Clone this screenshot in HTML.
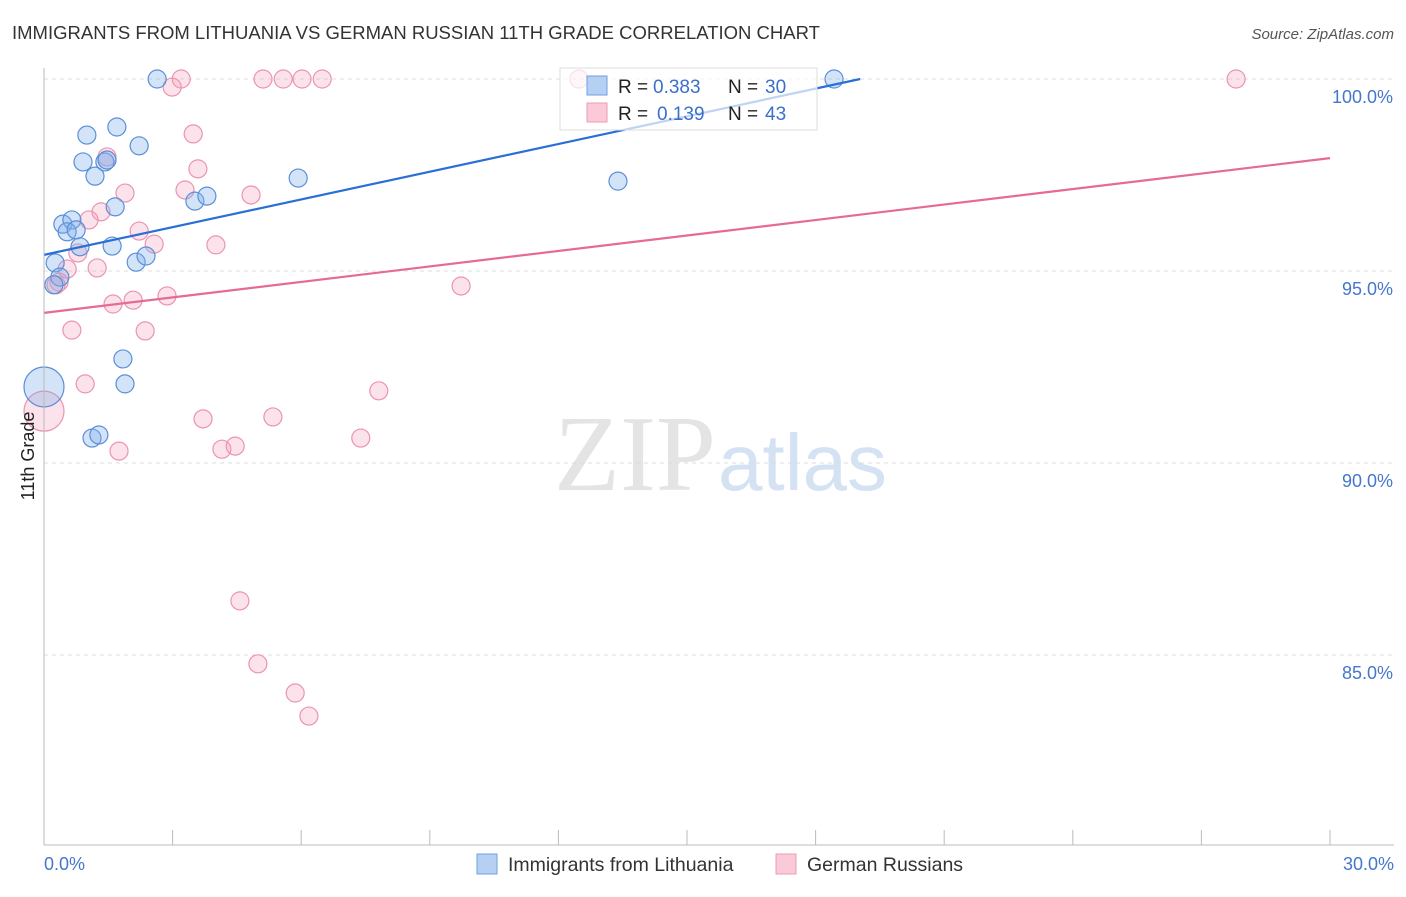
<!DOCTYPE html>
<html><head><meta charset="utf-8"><style>
body{margin:0;background:#fff;font-family:"Liberation Sans",sans-serif}
</style></head><body>
<svg width="1406" height="892" xmlns="http://www.w3.org/2000/svg" id="chart">
<text x="12" y="39" font-size="18.5" fill="#333">IMMIGRANTS FROM LITHUANIA VS GERMAN RUSSIAN 11TH GRADE CORRELATION CHART</text>
<text x="1394" y="39" font-size="15" fill="#555" font-style="italic" text-anchor="end">Source: ZipAtlas.com</text>
<text x="716" y="490" font-size="108" fill="#e4e4e4" text-anchor="end" font-family="Liberation Serif">ZIP</text>
<text x="718" y="490" font-size="80" fill="#d4e2f4">atlas</text>
<g id="grid"></g><g id="pts"></g><g id="lines"></g>
<line x1="44" y1="68" x2="44" y2="845" stroke="#bbb"/>
<line x1="44" y1="845" x2="1394" y2="845" stroke="#bbb"/>
<text transform="translate(34,456) rotate(-90)" font-size="18" fill="#222" text-anchor="middle">11th Grade</text>
<text x="44" y="870" font-size="18" fill="#4477cc">0.0%</text>
<text x="1394" y="870" font-size="18" fill="#4477cc" text-anchor="end">30.0%</text>
<g>
<rect x="560" y="68" width="257" height="62" fill="#fff" fill-opacity="0.7" stroke="#ddd"/>
<rect x="587" y="76" width="20" height="19" fill="#b5d0f3" stroke="#6f9fe0"/>
<rect x="587" y="103" width="20" height="19" fill="#fbc9d7" stroke="#ee9cb5"/>
<text x="618" y="93" font-size="19" fill="#222">R =</text>
<text x="653" y="93" font-size="19" fill="#3a70c9">0.383</text>
<text x="728" y="93" font-size="19" fill="#222">N =</text>
<text x="765" y="93" font-size="19" fill="#3a70c9">30</text>
<text x="618" y="120" font-size="19" fill="#222">R =</text>
<text x="657" y="120" font-size="19" fill="#3a70c9">0.139</text>
<text x="728" y="120" font-size="19" fill="#222">N =</text>
<text x="765" y="120" font-size="19" fill="#3a70c9">43</text>
</g>
<g>
<rect x="477" y="854" width="20" height="20" fill="#b5d0f3" stroke="#6f9fe0"/>
<text x="508" y="871" font-size="19.5" fill="#333">Immigrants from Lithuania</text>
<rect x="776" y="854" width="20" height="20" fill="#fbc9d7" stroke="#ee9cb5"/>
<text x="807" y="871" font-size="19.5" fill="#333">German Russians</text>
</g>
</svg>
<script>
const blueX=[2.64,1.00,1.70,2.22,0.91,1.42,1.47,1.19,5.93,13.39,3.52,3.80,1.66,0.44,0.65,0.54,0.75,0.84,1.59,2.15,2.38,0.26,0.37,0.23,1.84,1.89,0.0,1.12,1.28,18.43];
const blueY=[100,98.54,98.75,98.26,97.84,97.84,97.89,97.47,97.42,97.34,96.82,96.95,96.67,96.22,96.33,96.02,96.07,95.63,95.65,95.23,95.39,95.21,94.84,94.64,92.71,92.06,91.98,90.65,90.73,100];
const blueBig=[26];
const pinkX=[3.20,2.99,5.11,5.58,6.02,6.49,12.48,27.81,3.48,3.59,1.47,1.89,3.29,4.83,1.33,1.05,2.22,2.57,4.01,0.79,0.54,1.24,0.35,0.28,9.73,1.61,2.08,2.87,0.65,2.36,0.96,7.81,0,3.71,5.34,7.39,4.15,4.46,1.75,4.57,4.99,5.86,6.18];
const pinkY=[100,99.79,100,100,100,100,100,100,98.57,97.66,97.97,97.03,97.11,96.98,96.54,96.33,96.04,95.70,95.68,95.47,95.05,95.08,94.71,94.64,94.61,94.14,94.24,94.35,93.46,93.44,92.06,91.88,91.35,91.15,91.20,90.65,90.36,90.44,90.31,86.41,84.77,84.01,83.41];
const pinkBig=[32];
const yTicks=[100,95,90,85];
const yTickLabels=["100.0%","95.0%","90.0%","85.0%"];
const xTicks=[0,3,6,9,12,15,18,21,24,27,30];
const blueTrend=[[0,95.42],[19.04,100]];
const pinkTrend=[[0,93.91],[30,97.94]];
const NS="http://www.w3.org/2000/svg";
const sx=v=>44+v/30*1286;
const sy=v=>79+(100-v)*38.4;
function mk(tag,attrs,parent){const e=document.createElementNS(NS,tag);for(const k in attrs)e.setAttribute(k,attrs[k]);parent.appendChild(e);return e;}
const grid=document.getElementById('grid');
yTicks.forEach((t,i)=>{
 const l=mk('line',{x1:44,x2:1394,y1:sy(t),y2:sy(t),stroke:'#ddd','stroke-dasharray':'4,4'},grid);
 
 
 const tx=mk('text',{x:1393,y:sy(t)+24,'font-size':18,fill:'#4477cc','text-anchor':'end'},grid);
 tx.textContent=yTickLabels[i];
 
 
});
xTicks.forEach(t=>{
 const l=mk('line',{x1:sx(t),x2:sx(t),y1:830,y2:845,stroke:'#bbb'},grid);
 
 
});
const pts=document.getElementById('pts');
function drawSeries(X,Y,big,fill,stroke,name){
 X.forEach((x,i)=>{
  const c=mk('circle',{cx:sx(x),cy:sy(Y[i]),r:big.includes(i)?20:9,fill:fill,stroke:stroke,'stroke-width':1.2},pts);
  
  
 });
}
drawSeries(pinkX,pinkY,pinkBig,'rgba(245,160,190,0.3)','#eb94b0','pink-point');
drawSeries(blueX,blueY,blueBig,'rgba(130,175,235,0.35)','#5b8fd6','blue-point');
const lines=document.getElementById('lines');
const bl=mk('line',{x1:sx(blueTrend[0][0]),y1:sy(blueTrend[0][1]),x2:sx(blueTrend[1][0]),y2:sy(blueTrend[1][1]),stroke:'#2a6fd6','stroke-width':2.2},lines);


const pl=mk('line',{x1:sx(pinkTrend[0][0]),y1:sy(pinkTrend[0][1]),x2:sx(pinkTrend[1][0]),y2:sy(pinkTrend[1][1]),stroke:'#e66a96','stroke-width':2.2},lines);


</script>
</body></html>
